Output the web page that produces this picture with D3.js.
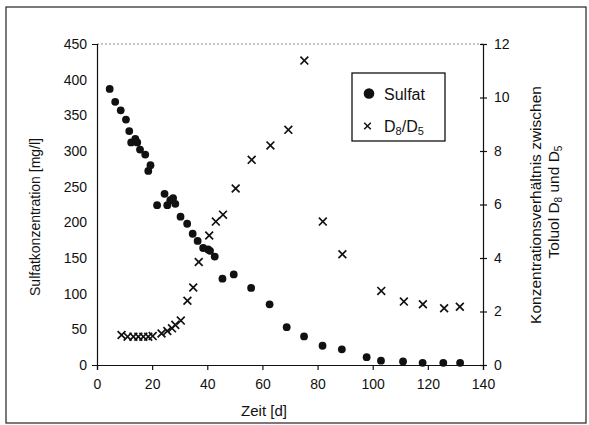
<!DOCTYPE html>
<html><head><meta charset="utf-8">
<script src="https://cdn.jsdelivr.net/npm/d3@7"></script>
<style>body{margin:0;background:#fff}svg{display:block}text{font-family:"Liberation Sans",Arial,sans-serif;fill:#111}</style>
</head><body><svg id="c" width="589" height="425"></svg>
<script>
const sulfatX = [4.6,6.6,8.6,10.5,11.7,12.4,13.9,14.6,15.6,17.5,18.6,19.4,21.8,24.5,25.5,26.6,27.6,28.4,30.3,32.7,34.7,36.5,38.5,40.3,41.0,42.7,45.5,49.6,55.9,62.6,68.8,75.1,81.8,88.8,97.8,103,111,118.1,125.6,131.7];
const sulfatY = [387,369,357,344,328,312,317,312,302,295,272,280,224,240,224,231,234,226,208,198,184,174,164,162,160,152,121,127,108,85,53,40,27,22,11,6,5,3,3,3];
const ratioX = [8.9,11.1,13.2,15.0,16.8,18.6,20.2,23.4,25.5,27.2,28.4,30.4,32.8,34.9,36.9,40.7,43.1,45.7,50.3,56.1,62.9,69.4,75.2,81.9,89.0,103.1,111.3,118.2,125.9,131.6];
const ratioY = [1.12,1.06,1.06,1.06,1.06,1.06,1.08,1.18,1.27,1.37,1.5,1.66,2.4,2.9,3.85,4.84,5.36,5.62,6.6,7.67,8.21,8.79,11.38,5.36,4.14,2.77,2.37,2.27,2.12,2.18];
const xTicks = [0,20,40,60,80,100,120,140];
const yLeftTicks = [0,50,100,150,200,250,300,350,400,450];
const yRightTicks = [0,2,4,6,8,10,12];

const svg = d3.select("#c");
const L=97, R=483, T=44, B=365;
const x = d3.scaleLinear().domain([0,140]).range([L,R]);
const yL = d3.scaleLinear().domain([0,450]).range([B,T]);
const yR = d3.scaleLinear().domain([0,12]).range([B,T]);

// outer frame
svg.append("rect").attr("x",6).attr("y",7).attr("width",580).attr("height",416)
  .attr("fill","none").attr("stroke","#222").attr("stroke-width",1.2);
// top dotted border of plot
svg.append("line").attr("x1",L).attr("x2",R).attr("y1",T).attr("y2",T)
  .attr("stroke","#888").attr("stroke-width",1).attr("stroke-dasharray","2,2");

const fs = "14px";
const gx = svg.append("g").attr("transform",`translate(0,${B})`)
  .call(d3.axisBottom(x).tickValues(xTicks).tickSize(5).tickPadding(9));
const gl = svg.append("g").attr("transform",`translate(${L},0)`)
  .call(d3.axisLeft(yL).tickValues(yLeftTicks).tickSize(5).tickPadding(5));
const gr = svg.append("g").attr("transform",`translate(${R},0)`)
  .call(d3.axisRight(yR).tickValues(yRightTicks).tickSize(4).tickPadding(7));
[gx,gl,gr].forEach(g=>{
  g.selectAll("text").style("font-size",fs).attr("fill","#111").style("font-family","'Liberation Sans',Arial,sans-serif");
  g.selectAll("line,path").attr("stroke","#111").attr("stroke-width",1.2);
});
gr.selectAll(".tick line").attr("x1",-3);
gl.selectAll(".tick line").attr("x2",1);

// titles
svg.append("text").attr("x",264).attr("y",416).attr("text-anchor","middle").style("font-size","15px").text("Zeit [d]");
svg.append("text").attr("transform","translate(40,217) rotate(-90)").attr("text-anchor","middle").style("font-size","14px").text("Sulfatkonzentration [mg/l]");
svg.append("text").attr("transform","translate(541,205) rotate(-90)").attr("text-anchor","middle").style("font-size","15.5px").text("Konzentrationsverhältnis zwischen");
const t2 = svg.append("text").attr("transform","translate(559,202) rotate(-90)").attr("text-anchor","middle").style("font-size","15.5px");
t2.append("tspan").text("Toluol D");
t2.append("tspan").attr("dy",3).style("font-size","10px").text("8");
t2.append("tspan").attr("dy",-3).text(" und D");
t2.append("tspan").attr("dy",3).style("font-size","10px").text("5");

// sulfat dots
svg.append("g").selectAll("circle").data(d3.range(sulfatX.length)).join("circle")
  .attr("cx",i=>x(sulfatX[i])).attr("cy",i=>yL(sulfatY[i])).attr("r",3.9).attr("fill","#111");
// crosses
const cs=3.9;
svg.append("g").selectAll("path").data(d3.range(ratioX.length)).join("path")
  .attr("d",i=>{const cx=x(ratioX[i]),cy=yR(ratioY[i]);return `M${cx-cs},${cy-cs}L${cx+cs},${cy+cs}M${cx-cs},${cy+cs}L${cx+cs},${cy-cs}`;})
  .attr("stroke","#111").attr("stroke-width",1.7).attr("fill","none");

// legend
const lg = svg.append("g");
lg.append("rect").attr("x",352).attr("y",73).attr("width",93).attr("height",68).attr("fill","#fff").attr("stroke","#111").attr("stroke-width",1.3);
lg.append("circle").attr("cx",369).attr("cy",93.5).attr("r",5.3).attr("fill","#111");
lg.append("text").attr("x",384).attr("y",100).style("font-size","16px").text("Sulfat");
const ls=3.3, lx=367.5, ly=126;
lg.append("path").attr("d",`M${lx-ls},${ly-ls}L${lx+ls},${ly+ls}M${lx-ls},${ly+ls}L${lx+ls},${ly-ls}`).attr("stroke","#111").attr("stroke-width",1.5);
const lt = lg.append("text").attr("x",384).attr("y",132).style("font-size","16px");
lt.append("tspan").text("D");
lt.append("tspan").attr("dy",3).style("font-size","11px").text("8");
lt.append("tspan").attr("dy",-3).text("/D");
lt.append("tspan").attr("dy",3).style("font-size","11px").text("5");
</script></body></html>
